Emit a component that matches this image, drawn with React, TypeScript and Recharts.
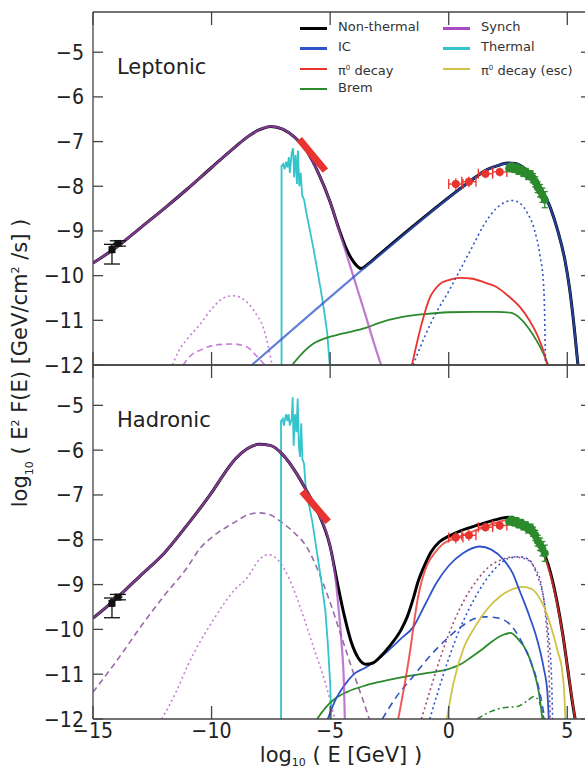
import React from "react";
import { ComposedChart, Line, Scatter, ErrorBar, XAxis, YAxis } from "recharts";

type P = [number, number];

const FONT = '"DejaVu Sans", "Liberation Sans", sans-serif';
const AXIS = "#444";
const TXT = "#222";

const NT = "#000000";
const IC = "#2f54c9";
const PI0 = "#e8332e";
const BREM = "#2b8a2b";
const SYNCH = "#a94cc2";
const THERMAL = "#33c4cc";
const ESC = "#cfc244";
const LPURPLE = "#c67fd6";
const DPURPLE = "#9a6aa8";

const X_TICKS = [-15, -10, -5, 0, 5];
const Y_TICKS = [-12, -11, -10, -9, -8, -7, -6, -5];
const X_DOMAIN: [number, number] = [-15, 6];
const Y_DOMAIN: [number, number] = [-12, -4.1];

// ---- Leptonic panel ----
const lepNonThermal: P[] = [
  [-15, -9.72], [-14, -9.36], [-13, -8.93], [-12, -8.5], [-11, -8.05], [-10, -7.58], [-9, -7.12],
  [-8.5, -6.9], [-8, -6.74], [-7.5, -6.66], [-7, -6.72], [-6.5, -6.9], [-6, -7.2], [-5.5, -7.7],
  [-5, -8.35], [-4.6, -9.0], [-4.3, -9.42], [-4.0, -9.7], [-3.7, -9.84], [-3.4, -9.74], [-3.0, -9.56],
  [1.0, -7.85], [1.5, -7.66], [2.0, -7.55], [2.5, -7.48], [2.8, -7.49], [3.2, -7.6], [3.6, -7.8],
  [4.0, -8.15], [4.3, -8.5], [4.6, -9.0], [4.9, -9.65], [5.1, -10.3], [5.3, -11.2], [5.45, -12],
];
const lepSynch: P[] = [
  [-15, -9.72], [-14, -9.36], [-13, -8.93], [-12, -8.5], [-11, -8.05], [-10, -7.58], [-9, -7.12],
  [-8.5, -6.9], [-8, -6.74], [-7.5, -6.66], [-7, -6.72], [-6.5, -6.9], [-6, -7.2], [-5.5, -7.7],
  [-5, -8.35], [-4.5, -9.2], [-4, -10.05], [-3.5, -10.9], [-3.1, -11.6], [-2.85, -12],
];
const lepIC: P[] = [
  [-8.3, -12], [-3.0, -9.58], [1.0, -7.85], [1.5, -7.66], [2.0, -7.55], [2.5, -7.48], [2.8, -7.49],
  [3.2, -7.6], [3.6, -7.8], [4.0, -8.15], [4.3, -8.5], [4.6, -9.0], [4.9, -9.65], [5.1, -10.3],
  [5.3, -11.2], [5.45, -12],
];
const lepICDotted: P[] = [
  [-1.5, -12], [-1.0, -11.35], [-0.5, -10.8], [0, -10.35], [0.5, -9.85], [1.0, -9.35], [1.5, -8.85],
  [2.0, -8.5], [2.4, -8.35], [2.7, -8.32], [3.0, -8.38], [3.3, -8.58], [3.6, -8.95], [3.85, -9.55],
  [4.0, -10.2], [4.05, -11.0], [4.08, -12],
];
const lepPi0: P[] = [
  [-1.55, -12], [-1.2, -11.2], [-0.8, -10.5], [-0.4, -10.2], [0, -10.1], [0.5, -10.05], [1.0, -10.07],
  [1.5, -10.15], [2.0, -10.25], [2.5, -10.45], [3.0, -10.7], [3.4, -11.0], [3.75, -11.35],
  [4.0, -11.7], [4.15, -12],
];
const lepBrem: P[] = [
  [-6.6, -12], [-6.2, -11.75], [-5.7, -11.52], [-5.3, -11.42], [-4.5, -11.3], [-3.5, -11.17],
  [-2.9, -11.05], [-2.0, -10.93], [-1.0, -10.86], [0, -10.82], [1, -10.81], [2, -10.81],
  [2.6, -10.83], [3.0, -10.95], [3.4, -11.2], [3.7, -11.45], [4.0, -11.75], [4.2, -12],
];
const lepThermal: P[] = [
  [-7.05, -12], [-7.05, -7.55], [-6.98, -7.5], [-6.92, -7.62], [-6.86, -7.45], [-6.8, -7.58],
  [-6.74, -7.35], [-6.7, -7.7], [-6.62, -7.25], [-6.56, -7.15], [-6.52, -7.8], [-6.46, -7.3],
  [-6.4, -7.95], [-6.36, -7.2], [-6.3, -8.0], [-6.24, -7.7], [-6.18, -8.2], [-6.1, -8.3],
  [-6.0, -8.6], [-5.85, -9.0], [-5.7, -9.4], [-5.55, -9.85], [-5.4, -10.3], [-5.25, -10.8],
  [-5.12, -11.3], [-5.02, -12],
];
const lepSynchDotted: P[] = [
  [-11.65, -12], [-11.4, -11.7], [-11, -11.4], [-10.5, -11.1], [-10, -10.75], [-9.5, -10.5],
  [-9.1, -10.45], [-8.6, -10.55], [-8.2, -10.8], [-7.8, -11.2], [-7.6, -11.6], [-7.45, -12],
];
const lepSynchDashed: P[] = [
  [-11.2, -12], [-10.9, -11.8], [-10.4, -11.65], [-9.8, -11.55], [-9.1, -11.53], [-8.5, -11.6],
  [-8.1, -11.8], [-7.75, -12],
];

// ---- Hadronic panel ----
const hadNonThermal: P[] = [
  [-15, -9.75], [-14, -9.3], [-13, -8.8], [-12, -8.3], [-11, -7.65], [-10, -6.95], [-9.5, -6.55],
  [-9, -6.2], [-8.5, -5.97], [-8, -5.87], [-7.5, -5.9], [-7, -6.1], [-6.5, -6.45], [-6, -6.9],
  [-5.5, -7.4], [-5.0, -8.15], [-4.7, -8.95], [-4.4, -9.7], [-4.1, -10.3], [-3.8, -10.65],
  [-3.5, -10.78], [-3.2, -10.75], [-2.9, -10.62], [-2.5, -10.38], [-2.0, -10.0], [-1.75, -9.72],
  [-1.5, -9.32], [-1.3, -8.95], [-1.0, -8.55], [-0.75, -8.28], [-0.4, -8.05], [0, -7.92],
  [0.5, -7.8], [1.3, -7.66], [2.0, -7.55], [2.5, -7.5], [3.0, -7.6], [3.5, -7.85], [3.8, -8.05],
  [4.3, -8.75], [4.8, -10.08], [5.05, -11.0], [5.2, -11.57], [5.33, -12],
];
const hadSynch: P[] = [
  [-15, -9.75], [-14, -9.3], [-13, -8.8], [-12, -8.3], [-11, -7.65], [-10, -6.95], [-9.5, -6.55],
  [-9, -6.2], [-8.5, -5.97], [-8, -5.87], [-7.5, -5.9], [-7, -6.1], [-6.5, -6.45], [-6, -6.9],
  [-5.5, -7.4], [-5.0, -8.15], [-4.8, -8.75], [-4.65, -9.5], [-4.52, -10.3], [-4.42, -11.2],
  [-4.38, -12],
];
const hadIC: P[] = [
  [-5.1, -12], [-4.8, -11.6], [-4.4, -11.25], [-4.0, -11.0], [-3.5, -10.85], [-3.0, -10.68],
  [-2.5, -10.45], [-2.0, -10.2], [-1.5, -9.95], [-1.0, -9.45], [-0.5, -8.95], [0, -8.58],
  [0.6, -8.3], [1.3, -8.15], [1.8, -8.22], [2.3, -8.44], [2.7, -8.75], [3.0, -9.15], [3.4, -9.7],
  [3.73, -10.23], [4.0, -10.85], [4.16, -11.4], [4.22, -12],
];
const hadICDashed: P[] = [
  [-2.8, -12], [-2.2, -11.5], [-1.5, -11.05], [-0.8, -10.6], [-0.1, -10.22], [0.5, -9.95],
  [1.0, -9.78], [1.5, -9.72], [2.0, -9.74], [2.5, -9.85], [3.0, -10.2], [3.4, -10.65],
  [3.7, -11.1], [3.95, -11.7], [4.05, -12],
];
const hadICDotted: P[] = [
  [-0.8, -12], [-0.4, -11.3], [0, -10.65], [0.5, -9.95], [1.0, -9.4], [1.5, -8.95], [2.0, -8.62],
  [2.5, -8.42], [3.0, -8.38], [3.4, -8.45], [3.7, -8.75], [4.0, -9.3], [4.2, -10.1], [4.33, -11.0],
  [4.38, -12],
];
const hadPi0Dotted: P[] = [
  [-1.15, -12], [-0.75, -11.3], [-0.3, -10.55], [0.2, -9.85], [0.7, -9.3], [1.2, -8.9], [1.7, -8.6],
  [2.2, -8.45], [2.7, -8.38], [3.2, -8.42], [3.6, -8.6], [3.9, -9.0], [4.1, -9.8], [4.22, -10.8],
  [4.28, -12],
];
const hadPi0: P[] = [
  [-2.13, -12], [-1.85, -11.2], [-1.62, -10.45], [-1.45, -9.8], [-1.3, -9.3], [-1.1, -8.85],
  [-0.9, -8.55], [-0.6, -8.3], [-0.3, -8.12], [0.36, -7.95], [1.3, -7.76], [2.0, -7.62],
  [2.5, -7.56], [3.0, -7.65], [3.5, -7.9], [3.8, -8.1], [4.3, -8.8], [4.8, -10.1], [5.05, -11.0],
  [5.2, -11.55], [5.33, -12],
];
const hadPi0Esc: P[] = [
  [-0.08, -12], [0.2, -11.2], [0.61, -10.45], [1.1, -9.95], [1.62, -9.55], [2.2, -9.25],
  [2.7, -9.1], [3.1, -9.05], [3.5, -9.1], [3.86, -9.33], [4.2, -9.75], [4.4, -10.1], [4.6, -10.5],
  [4.78, -10.9], [4.88, -11.5], [4.92, -12],
];
const hadBrem: P[] = [
  [-5.55, -12], [-5.2, -11.75], [-4.8, -11.55], [-4.3, -11.4], [-3.5, -11.25], [-2.9, -11.17],
  [-2.0, -11.07], [-1.0, -10.98], [-0.1, -10.9], [0.5, -10.78], [0.9, -10.64], [1.4, -10.45],
  [1.8, -10.28], [2.3, -10.12], [2.6, -10.08], [2.9, -10.2], [3.3, -10.5], [3.6, -10.95],
  [3.8, -11.4], [3.95, -12],
];
const hadBremEsc: P[] = [
  [1.2, -12], [1.7, -11.85], [2.3, -11.75], [2.9, -11.72], [3.3, -11.6], [3.6, -11.5], [3.8, -11.6],
  [3.95, -11.85], [4.02, -12],
];
const hadThermal: P[] = [
  [-7.07, -12], [-7.07, -5.35], [-7.0, -5.3], [-6.95, -5.45], [-6.9, -5.3], [-6.85, -5.2],
  [-6.8, -5.35], [-6.75, -5.2], [-6.7, -5.45], [-6.62, -5.3], [-6.58, -4.82], [-6.54, -5.9],
  [-6.48, -5.2], [-6.42, -5.6], [-6.37, -4.85], [-6.32, -5.9], [-6.27, -6.15], [-6.22, -5.4],
  [-6.17, -6.2], [-6.1, -6.3], [-6.02, -6.9], [-5.9, -7.2], [-5.75, -7.6], [-5.55, -8.3],
  [-5.35, -9.0], [-5.2, -9.6], [-5.1, -10.3], [-5.0, -11.2], [-4.95, -12],
];
const hadSynchDashed: P[] = [
  [-15, -11.4], [-14, -10.7], [-13, -9.95], [-12, -9.25], [-11, -8.6], [-10.5, -8.2], [-10, -7.95],
  [-9, -7.6], [-8.5, -7.45], [-8, -7.4], [-7.5, -7.45], [-7.2, -7.55], [-6.5, -7.85], [-6, -8.15],
  [-5.5, -8.7], [-5, -9.4], [-4.5, -10.2], [-4, -11.0], [-3.6, -11.6], [-3.35, -12],
];
const hadSynchDotted: P[] = [
  [-12.1, -12], [-11.5, -11.4], [-11, -10.8], [-10, -9.85], [-9, -9.1], [-8.5, -8.85], [-8, -8.45],
  [-7.6, -8.33], [-7.2, -8.45], [-6.7, -8.9], [-6.2, -9.6], [-5.7, -10.4], [-5.2, -11.2], [-4.8, -12],
];

// optical/X-ray butterfly (thick red bar)
const lepBar: P[] = [[-6.3, -6.95], [-5.2, -7.65]];
const hadBar: P[] = [[-6.18, -6.92], [-5.08, -7.6]];

// observed points
const radioX = [-14.2, -13.95];
const radioY = [-9.42, -9.28];
const radioErrY: [number, number][] = [[0.32, 0.12], [0.06, 0.06]];
const radioErrX = [0, 0.2];

const fermiX = [0.3, 0.85, 1.55, 2.15];
const fermiY = [-7.95, -7.9, -7.72, -7.68];
const fermiErrX = [0.3, 0.3, 0.3, 0.3];
const fermiErrY = [0.13, 0.12, 0.1, 0.1];

const hessX = [2.55, 2.65, 2.75, 2.85, 2.95, 3.05, 3.15, 3.25, 3.35, 3.45, 3.55, 3.65, 3.75, 3.85, 3.95, 4.05];
const hessY = [-7.6, -7.55, -7.62, -7.58, -7.66, -7.62, -7.7, -7.68, -7.76, -7.74, -7.82, -7.9, -8.02, -8.1, -8.2, -8.3];
const hessErrY = [0.06, 0.06, 0.06, 0.07, 0.07, 0.07, 0.08, 0.08, 0.09, 0.09, 0.1, 0.11, 0.12, 0.14, 0.16, 0.18];

const LEGEND_LEFT: [string, string][] = [["Non-thermal", NT], ["IC", IC], ["π0 decay", PI0], ["Brem", BREM]];
const LEGEND_RIGHT: [string, string][] = [["Synch", SYNCH], ["Thermal", THERMAL], ["π0 decay (esc)", ESC]];

const pts = (a: P[]) => a.map(([x, y]) => ({ x, y }));
const fmt = (v: number) => (v < 0 ? "\u2212" + Math.abs(v) : String(v));

const curve = (key: string, data: P[], color: string, width: number, dash?: string, opacity = 1, linear = false) => (
  <Line
    key={key}
    data={pts(data)}
    dataKey="y"
    type={linear ? "linear" : "monotone"}
    stroke={color}
    strokeWidth={width}
    strokeDasharray={dash}
    strokeOpacity={opacity}
    dot={false}
    activeDot={false}
    isAnimationActive={false}
    strokeLinecap="butt"
  />
);

const dotShape = (color: string, r: number, square = false) => (p: any) =>
  square ? (
    <rect x={p.cx - r} y={p.cy - r} width={2 * r} height={2 * r} fill={color} />
  ) : (
    <circle cx={p.cx} cy={p.cy} r={r} fill={color} />
  );

const observations = () => {
  const radio = radioX.map((x, i) => ({ x, y: radioY[i], ey: radioErrY[i], ex: radioErrX[i] }));
  const fermi = fermiX.map((x, i) => ({ x, y: fermiY[i], ex: fermiErrX[i], ey: fermiErrY[i] }));
  const hess = hessX.map((x, i) => ({ x, y: hessY[i], ex: 0.05, ey: hessErrY[i] }));
  return [
    <Scatter key="radio" data={radio} dataKey="y" isAnimationActive={false} shape={dotShape("#111", 3.5, true)}>
      <ErrorBar dataKey="ey" direction="y" stroke="#111" width={8} strokeWidth={1.3} />
      <ErrorBar dataKey="ex" direction="x" stroke="#111" width={0} strokeWidth={1.3} />
    </Scatter>,
    <Scatter key="fermi" data={fermi} dataKey="y" isAnimationActive={false} shape={dotShape(PI0, 4)}>
      <ErrorBar dataKey="ey" direction="y" stroke={PI0} width={0} strokeWidth={1.3} />
      <ErrorBar dataKey="ex" direction="x" stroke={PI0} width={5} strokeWidth={1.3} />
    </Scatter>,
    <Scatter key="hess" data={hess} dataKey="y" isAnimationActive={false} shape={dotShape(BREM, 4)}>
      <ErrorBar dataKey="ey" direction="y" stroke={BREM} width={3} strokeWidth={1.3} />
      <ErrorBar dataKey="ex" direction="x" stroke={BREM} width={0} strokeWidth={1.3} />
    </Scatter>,
  ];
};

const tickText = { fontFamily: FONT, fontSize: 19, fill: TXT };

// slightly taller glyphs, like the reference image
const StretchText = ({ x, y, anchor, children }: { x: number; y: number; anchor: "start" | "middle" | "end"; children: React.ReactNode }) => (
  <text transform={`translate(${x} ${y}) scale(1 1.12)`} x={0} y={0} textAnchor={anchor} {...tickText}>
    {children}
  </text>
);

// axes are 1px thick boxes (recharts skips zero-sized axes); ticks point inward
const axes = (showX: boolean) => [
  <XAxis
    key="xb"
    type="number"
    dataKey="x"
    domain={X_DOMAIN}
    allowDataOverflow
    ticks={X_TICKS}
    interval={0}
    height={1}
    tickSize={0}
    tickMargin={0}
    tickLine={false}
    axisLine={{ stroke: AXIS, strokeWidth: 1.3 }}
    tick={(p: any) => (
      <g>
        <line x1={p.x} x2={p.x} y1={p.y} y2={p.y - 13} stroke={AXIS} strokeWidth={1.3} />
        {showX && (
          <StretchText x={p.x} y={p.y + 19} anchor="middle">
            {fmt(p.payload.value)}
          </StretchText>
        )}
      </g>
    )}
  />,
  <XAxis
    key="xt"
    xAxisId="top"
    orientation="top"
    type="number"
    dataKey="x"
    domain={X_DOMAIN}
    allowDataOverflow
    ticks={X_TICKS}
    interval={0}
    height={1}
    tickSize={0}
    tickMargin={0}
    tickLine={false}
    axisLine={{ stroke: AXIS, strokeWidth: 1.3 }}
    tick={(p: any) => <line x1={p.x} x2={p.x} y1={p.y} y2={p.y + 13} stroke={AXIS} strokeWidth={1.3} />}
  />,
  <YAxis
    key="yl"
    type="number"
    dataKey="y"
    domain={Y_DOMAIN}
    allowDataOverflow
    ticks={Y_TICKS}
    interval={0}
    width={1}
    tickSize={0}
    tickMargin={0}
    tickLine={false}
    axisLine={{ stroke: AXIS, strokeWidth: 1.3 }}
    tick={(p: any) => (
      <g>
        <line x1={p.x} x2={p.x + 10} y1={p.y} y2={p.y} stroke={AXIS} strokeWidth={1.3} />
        <StretchText x={p.x - 9} y={p.y + 7.5} anchor="end">
          {fmt(p.payload.value)}
        </StretchText>
      </g>
    )}
  />,
  <YAxis
    key="yr"
    yAxisId="right"
    orientation="right"
    type="number"
    domain={Y_DOMAIN}
    allowDataOverflow
    ticks={Y_TICKS}
    interval={0}
    width={1}
    tickSize={0}
    tickMargin={0}
    tickLine={false}
    axisLine={{ stroke: AXIS, strokeWidth: 1.3 }}
    tick={(p: any) => <line x1={p.x} x2={p.x - 10} y1={p.y} y2={p.y} stroke={AXIS} strokeWidth={1.3} />}
  />,
];

const pi = (s: string) => {
  if (!s.startsWith("π0")) return s;
  return (
    <>
      π<sup style={{ fontSize: 7, verticalAlign: 5 }}>0</sup>
      {s.slice(2)}
    </>
  );
};

const legendColumn = (items: [string, string][], left: number, textLeft: number) =>
  items.map(([name, color], i) => (
    <div key={name} style={{ position: "absolute", left, top: 28 + i * 20.3 - 8, height: 16, width: 160 }}>
      <div style={{ position: "absolute", left: 0, top: 7, width: textLeft - left - 11, height: 2.5, background: color }} />
      <div style={{ position: "absolute", left: textLeft - left, top: -1, fontSize: 13, color: "#333", whiteSpace: "nowrap", lineHeight: "16px" }}>
        {pi(name)}
      </div>
    </div>
  ));

const subStyle = { fontSize: 11, verticalAlign: -4, lineHeight: 0 } as const;

export default function App() {
  return (
    <div
      style={{
        position: "absolute",
        left: 0,
        top: 0,
        width: 585,
        height: 771,
        overflow: "hidden",
        background: "#fff",
        fontFamily: FONT,
      }}
    >
      <div style={{ position: "absolute", left: 0, top: 0 }}>
        <ComposedChart width={600} height={380} margin={{ top: 11, right: 8, bottom: 14, left: 92 }}>
          {axes(false)}
          {curve("ld", lepSynchDotted, LPURPLE, 1.6, "2 3")}
          {curve("lds", lepSynchDashed, LPURPLE, 1.6, "6 4")}
          {curve("lth", lepThermal, THERMAL, 1.8, undefined, 1, true)}
          {curve("lbr", lepBrem, BREM, 1.8)}
          {curve("lpi", lepPi0, PI0, 1.8)}
          {curve("licd", lepICDotted, IC, 1.6, "2 3")}
          {curve("lnt", lepNonThermal, NT, 3)}
          {curve("lsy", lepSynch, SYNCH, 2.2, undefined, 0.75)}
          {curve("lic", lepIC, IC, 2.2, undefined, 0.75)}
          {curve("lbar", lepBar, PI0, 7, undefined, 1, true)}
          {observations()}
        </ComposedChart>
      </div>
      <div style={{ position: "absolute", left: 0, top: 350 }}>
        <ComposedChart width={600} height={421} margin={{ top: 14, right: 8, bottom: 51, left: 92 }}>
          {axes(true)}
          {curve("hdt", hadSynchDotted, LPURPLE, 1.6, "2 3")}
          {curve("hds", hadSynchDashed, DPURPLE, 1.6, "6 4")}
          {curve("hth", hadThermal, THERMAL, 1.8, undefined, 1, true)}
          {curve("hbe", hadBremEsc, BREM, 1.5, "6 3 2 3")}
          {curve("hbr", hadBrem, BREM, 1.8)}
          {curve("hicd", hadICDashed, IC, 1.6, "7 5")}
          {curve("hicdt", hadICDotted, IC, 1.6, "2 3")}
          {curve("hpid", hadPi0Dotted, "#a04a80", 1.6, "2 3")}
          {curve("hesc", hadPi0Esc, ESC, 1.8)}
          {curve("hic", hadIC, IC, 1.8)}
          {curve("hnt", hadNonThermal, NT, 3)}
          {curve("hpi", hadPi0, PI0, 2, undefined, 0.8)}
          {curve("hsy", hadSynch, SYNCH, 2.2, undefined, 0.75)}
          {curve("hbar", hadBar, PI0, 7, undefined, 1, true)}
          {observations()}
        </ComposedChart>
      </div>

      {legendColumn(LEGEND_LEFT, 300, 338)}
      {legendColumn(LEGEND_RIGHT, 443, 481)}

      <div style={{ position: "absolute", left: 117, top: 55, fontSize: 21, color: TXT, whiteSpace: "nowrap" }}>Leptonic</div>
      <div style={{ position: "absolute", left: 117, top: 408, fontSize: 21, color: TXT, whiteSpace: "nowrap" }}>Hadronic</div>

      <div
        style={{
          position: "absolute",
          left: 341,
          top: 755,
          transform: "translate(-50%, -50%)",
          fontSize: 21,
          lineHeight: "22px",
          color: TXT,
          whiteSpace: "nowrap",
        }}
      >
        log<span style={subStyle}>10</span> ( E [GeV] )
      </div>
      <div
        style={{
          position: "absolute",
          left: 22,
          top: 363,
          transform: "translate(-50%, -50%) rotate(-90deg)",
          fontSize: 21,
          color: TXT,
          whiteSpace: "nowrap",
        }}
      >
        log<sub style={{ fontSize: 11 }}>10</sub> ( E<sup style={{ fontSize: 11 }}>2</sup> F(E) [GeV/cm
        <sup style={{ fontSize: 11 }}>2</sup> /s] )
      </div>
    </div>
  );
}
